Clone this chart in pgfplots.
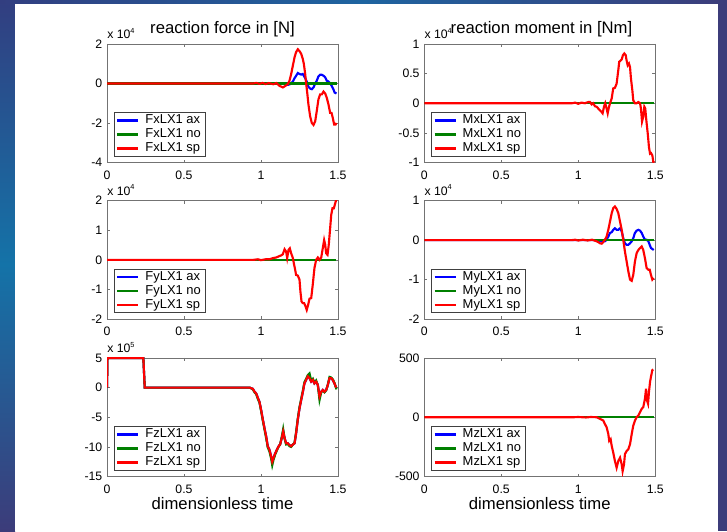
\documentclass[border=0pt]{standalone}
\usepackage{pgfplots}
\pgfplotsset{compat=1.18}
\usepackage{pgfplotstable}
\usepackage{fontspec}
\setmainfont{Liberation Sans}

\definecolor{mblue}{RGB}{0,0,255}
\definecolor{mgreen}{RGB}{0,128,0}
\definecolor{mred}{RGB}{255,0,0}
\definecolor{bgA}{RGB}{50,62,128}
\definecolor{bgB}{RGB}{20,115,168}
\definecolor{bgC}{RGB}{60,60,122}
\definecolor{bgT}{RGB}{30,100,160}

% Fx (x 10^4)
\pgfplotstableread{
x y
0 0
0.95 0
0.97 0.03
0.99 -0.02
1.01 0.03
1.03 -0.03
1.05 0.02
1.08 -0.04
1.10 0.02
1.12 -0.12
1.142 -0.2
1.159 -0.12
1.174 -0.03
1.185 0.14
1.196 0.48
1.207 0.91
1.218 1.33
1.228 1.59
1.239 1.73
1.25 1.64
1.261 1.5
1.271 1.25
1.278 1.0
1.287 0.48
1.293 0
1.30 -0.46
1.308 -1.06
1.319 -1.66
1.33 -2.0
1.341 -2.1
1.352 -1.91
1.362 -1.4
1.373 -0.8
1.384 -0.55
1.395 -0.55
1.406 -0.41
1.417 -0.51
1.427 -0.72
1.438 -1.06
1.449 -1.49
1.458 -1.49
1.466 -1.74
1.475 -2.08
1.484 -2.08
1.49 -2.0
}\fxred
\pgfplotstableread{
x y
0 0
1.15 0
1.174 -0.07
1.19 -0.03
1.207 0.1
1.218 0.27
1.228 0.39
1.239 0.53
1.25 0.48
1.261 0.45
1.271 0.48
1.278 0.39
1.287 0.27
1.297 0.1
1.308 -0.17
1.319 -0.26
1.33 -0.29
1.341 -0.2
1.352 0
1.362 0.14
1.373 0.36
1.384 0.44
1.395 0.44
1.406 0.39
1.417 0.31
1.427 0.14
1.438 0.1
1.449 0
1.459 -0.12
1.47 -0.29
1.478 -0.46
1.49 -0.51
}\fxblue
% Fy (x 10^4)
\pgfplotstableread{
x y
0 0
0.95 0
0.98 0.02
1.0 -0.01
1.03 0.02
1.055 0.02
1.077 0.06
1.099 0.08
1.12 0.13
1.131 0.15
1.142 0.19
1.153 0.36
1.163 0.28
1.17 0.06
1.179 0.34
1.187 0.39
1.196 0.22
1.207 0.06
1.213 -0.11
1.222 -0.34
1.228 -0.51
1.239 -0.53
1.25 -0.67
1.256 -1.07
1.263 -1.4
1.271 -1.46
1.28 -1.46
1.289 -1.57
1.297 -1.69
1.306 -1.52
1.315 -1.31
1.326 -1.29
1.336 -0.84
1.347 -0.28
1.358 0
1.369 0.08
1.38 0
1.391 0.08
1.401 0.39
1.41 0.67
1.417 0.51
1.423 0.22
1.432 0.17
1.44 0.51
1.449 1.07
1.456 1.52
1.464 1.74
1.473 1.74
1.482 1.91
1.49 2.05
}\fyred
% Fz (x 10^5)
\pgfplotstableread{
x y
0 0
0.003 5
0.236 5
0.245 0
0.925 0
0.936 -0.1
0.947 -0.2
0.958 -0.7
0.969 -1.0
0.979 -1.7
0.99 -2.4
1.001 -3.8
1.012 -5.4
1.023 -6.9
1.034 -8.3
1.044 -9.9
1.055 -10.5
1.066 -11.6
1.073 -12.5
1.081 -11.9
1.092 -11.1
1.103 -10.5
1.114 -9.9
1.124 -9.6
1.135 -8.5
1.144 -7.4
1.153 -8.5
1.163 -9.4
1.174 -9.4
1.185 -9.7
1.196 -9.9
1.207 -9.6
1.218 -9.4
1.228 -7.7
1.239 -5.4
1.25 -3.5
1.261 -2.1
1.272 -0.7
1.282 0.7
1.293 1.3
1.304 1.9
1.315 1.6
1.326 1.0
1.337 1.3
1.347 0.7
1.358 1.0
1.369 0.45
1.38 -1.5
1.391 -0.7
1.401 -0.4
1.412 -0.7
1.423 -0.4
1.434 0.45
1.445 1.6
1.456 1.6
1.466 1.3
1.477 0.7
1.488 0
}\fzred
\pgfplotstableread{
x y
0 0
0.003 5
0.236 5
0.245 0
0.925 0
0.936 -0.1
0.947 -0.3
0.958 -0.8
0.969 -1.1
0.979 -1.9
0.99 -2.5
1.001 -4.0
1.012 -5.6
1.023 -7.1
1.034 -8.6
1.044 -10.1
1.055 -10.8
1.066 -12.0
1.073 -13.1
1.081 -12.2
1.092 -11.3
1.103 -10.6
1.114 -10.0
1.124 -9.6
1.135 -8.3
1.144 -7.0
1.153 -8.6
1.163 -9.6
1.174 -9.5
1.185 -9.9
1.196 -10.0
1.207 -9.6
1.218 -9.3
1.228 -7.5
1.239 -5.2
1.25 -3.3
1.261 -1.9
1.272 -0.5
1.282 0.9
1.293 1.5
1.304 2.1
1.315 2.4
1.326 1.2
1.337 1.5
1.347 0.8
1.358 1.2
1.369 0.4
1.38 -2.1
1.391 -0.8
1.401 -0.5
1.412 -0.8
1.423 -0.5
1.434 0.5
1.445 1.8
1.456 1.7
1.466 1.4
1.477 0.8
1.49 -0.3
}\fzgreen
% Mx (x 10^4)
\pgfplotstableread{
x y
0 0
0.96 0
0.98 0.01
1.0 -0.01
1.02 0.01
1.0435 0
1.065 0.02
1.076 0.02
1.087 -0.02
1.097 0
1.108 -0.05
1.119 -0.06
1.13 -0.09
1.141 -0.12
1.152 -0.15
1.158 -0.17
1.167 -0.06
1.175 0
1.184 -0.09
1.191 -0.17
1.197 -0.09
1.206 0
1.217 0.08
1.227 0.25
1.238 0.26
1.249 0.33
1.26 0.56
1.266 0.7
1.275 0.72
1.282 0.74
1.29 0.81
1.299 0.84
1.308 0.81
1.314 0.72
1.321 0.64
1.329 0.67
1.336 0.61
1.342 0.42
1.351 0.22
1.357 0.05
1.368 0
1.379 0
1.39 0.02
1.401 0
1.407 -0.09
1.414 -0.31
1.422 -0.23
1.429 -0.06
1.435 -0.09
1.442 -0.29
1.451 -0.51
1.459 -0.74
1.466 -0.85
1.472 -0.84
1.481 -0.88
1.487 -0.99
1.494 -1.0
}\mxred
% My (x 10^4)
\pgfplotstableread{
x y
0 0
0.96 0
0.98 0.01
1.0 -0.01
1.03 0.01
1.06 -0.01
1.09 0.01
1.119 -0.03
1.13 -0.05
1.141 -0.08
1.152 -0.09
1.162 -0.05
1.173 0.01
1.184 0.09
1.195 0.26
1.206 0.47
1.217 0.68
1.227 0.81
1.238 0.85
1.249 0.79
1.26 0.68
1.271 0.47
1.282 0.26
1.292 0.01
1.303 -0.29
1.314 -0.54
1.325 -0.79
1.336 -1.0
1.347 -1.03
1.357 -0.88
1.368 -0.54
1.379 -0.33
1.39 -0.25
1.401 -0.2
1.412 -0.16
1.422 -0.25
1.433 -0.46
1.444 -0.71
1.455 -0.75
1.464 -0.75
1.472 -0.88
1.481 -1.0
1.49 -0.96
}\myred
\pgfplotstableread{
x y
0 0
1.12 0
1.152 -0.03
1.173 -0.03
1.184 0.01
1.195 0.09
1.206 0.18
1.217 0.2
1.227 0.26
1.238 0.3
1.249 0.26
1.26 0.26
1.271 0.3
1.282 0.22
1.292 0.05
1.303 -0.08
1.314 -0.12
1.325 -0.12
1.336 -0.08
1.347 -0.03
1.357 0.05
1.368 0.18
1.379 0.24
1.39 0.26
1.401 0.24
1.412 0.18
1.422 0.09
1.433 0.01
1.444 0.01
1.455 -0.03
1.464 -0.12
1.472 -0.2
1.49 -0.25
}\myblue
% Mz
\pgfplotstableread{
x y
0 0
0.97 0
1.0 2
1.05 -2
1.08 2
1.119 0
1.141 -14
1.162 -28
1.173 -57
1.184 -85
1.195 -142
1.201 -199
1.210 -185
1.217 -241
1.227 -298
1.238 -369
1.249 -426
1.26 -369
1.271 -341
1.282 -398
1.288 -455
1.297 -398
1.303 -312
1.314 -284
1.325 -270
1.336 -227
1.347 -142
1.357 -71
1.368 -28
1.379 0
1.39 14
1.401 43
1.412 71
1.422 85
1.433 156
1.44 241
1.446 142
1.453 114
1.459 213
1.466 298
1.472 341
1.481 398
1.487 403
}\mzred

\pgfplotsset{
  mstyle/.style={
    scale only axis,
    width=173.25pt, height=88.9pt,
    xmin=0, xmax=1.5,
    xtick={0,0.5,1,1.5}, xticklabels={0,0.5,1,1.5},
    tick align=inside, major tick length=2.2pt,
    axis line style={black!55, line width=0.6pt},
    tick style={black!55, line width=0.5pt},
    ticklabel style={font=\fontsize{9.2}{10}\selectfont},
    xticklabel style={yshift=-2.6pt},
    scaled ticks=false,
    every axis plot/.append style={line width=1.6pt},
    legend style={at={(0.0286,0.0506)}, anchor=south west, draw=black!75,
      line width=0.5pt, fill=white, font=\fontsize{9.7}{10}\selectfont,
      inner xsep=1.5pt, inner ysep=0.6pt, row sep=0pt,
      nodes={inner ysep=0.7pt, text height=6.9pt, text depth=2.2pt}},
    legend cell align=left,
    legend image code/.code={\draw[##1, line width=2.1pt] (0pt,0pt) -- (15.75pt,0pt); \path (18.3pt,0pt);},
  }
}

\begin{document}
\begin{tikzpicture}
% background (slide)
\fill[bgC] (0,0) rectangle (545.25pt,398.25pt);
\shade[top color=bgB, bottom color=bgC] (0,0) rectangle (11.25pt,200pt);
\shade[top color=bgA, bottom color=bgB] (0,199.5pt) rectangle (11.25pt,398.25pt);
\shade[left color=bgA, right color=bgT] (0,395.25pt) rectangle (272pt,398.25pt);
\shade[left color=bgT, right color=bgC] (271.5pt,395.25pt) rectangle (545.25pt,398.25pt);
\fill[white] (11.25pt,0) rectangle (538.5pt,395.25pt);
\useasboundingbox (0,0) rectangle (545.25pt,398.25pt);

% ---------- Fx ----------
\begin{axis}[mstyle, name=TL, at={(80.25pt,276.375pt)}, anchor=south west,
  ymin=-4, ymax=2, ytick={-4,-2,0,2}, yticklabels={-4,-2,0,2}]
\addplot[mblue] table[x=x,y=y] {\fxblue};
\addplot[mgreen] coordinates {(0,0) (1.492,0)};
\addplot[mred] table[x=x,y=y] {\fxred};
\legend{FxLX1 ax, FxLX1 no, FxLX1 sp}
\end{axis}

% ---------- Mx ----------
\begin{axis}[mstyle, name=TR, at={(318.2pt,276.375pt)}, anchor=south west,
  ymin=-1, ymax=1, ytick={-1,-0.5,0,0.5,1}, yticklabels={-1,-0.5,0,0.5,1}]
\addplot[mblue] coordinates {(0,0) (1.492,0)};
\addplot[mgreen] coordinates {(0,0) (1.492,0)};
\addplot[mred] table[x=x,y=y] {\mxred};
\legend{MxLX1 ax, MxLX1 no, MxLX1 sp}
\end{axis}

% ---------- Fy ----------
\begin{axis}[mstyle, name=ML, at={(80.25pt,158.9pt)}, anchor=south west,
  ymin=-2, ymax=2, ytick={-2,-1,0,1,2}, yticklabels={-2,-1,0,1,2}]
\addplot[mblue] coordinates {(0,0) (1.49,0)};
\addplot[mgreen] coordinates {(0,0) (1.49,0)};
\addplot[mred] table[x=x,y=y] {\fyred};
\legend{FyLX1 ax, FyLX1 no, FyLX1 sp}
\end{axis}

% ---------- My ----------
\begin{axis}[mstyle, name=MR, at={(318.2pt,158.9pt)}, anchor=south west,
  ymin=-2, ymax=1, ytick={-2,-1,0,1}, yticklabels={-2,-1,0,1}]
\addplot[mblue] table[x=x,y=y] {\myblue};
\addplot[mgreen] coordinates {(0,0) (1.49,0)};
\addplot[mred] table[x=x,y=y] {\myred};
\legend{MyLX1 ax, MyLX1 no, MyLX1 sp}
\end{axis}

% ---------- Fz ----------
\begin{axis}[mstyle, name=BL, at={(80.25pt,40.875pt)}, anchor=south west,
  ymin=-15, ymax=5, ytick={-15,-10,-5,0,5}, yticklabels={-15,-10,-5,0,5}]
\addplot[mblue] table[x=x,y=y] {\fzred};
\addplot[mgreen] table[x=x,y=y] {\fzgreen};
\addplot[mred] table[x=x,y=y] {\fzred};
\legend{FzLX1 ax, FzLX1 no, FzLX1 sp}
\end{axis}

% ---------- Mz ----------
\begin{axis}[mstyle, name=BR, at={(318.2pt,40.875pt)}, anchor=south west,
  ymin=-500, ymax=500, ytick={-500,0,500}, yticklabels={-500,0,500}]
\addplot[mblue] coordinates {(0,0) (1.49,0)};
\addplot[mgreen] coordinates {(0,0) (1.49,0)};
\addplot[mred] table[x=x,y=y] {\mzred};
\legend{MzLX1 ax, MzLX1 no, MzLX1 sp}
\end{axis}

% multipliers
\newcommand{\mult}[1]{x 10\raisebox{0.8ex}{\fontsize{5.5}{6}\selectfont #1}}
\foreach \ax/\e in {TL/4, TR/4, ML/4, MR/4, BL/5}{
  \node[anchor=base west, inner sep=0pt, font=\fontsize{9.2}{10}\selectfont]
    at ([yshift=4.1pt]\ax.north west) {\mult{\e}};
}
% titles
\node[anchor=base, inner sep=0pt, font=\fontsize{12.5}{14}\selectfont] at ([yshift=8pt]TL.north) {reaction force in [N]};
\node[anchor=base, inner sep=0pt, font=\fontsize{12.5}{14}\selectfont] at ([xshift=1.3pt,yshift=8pt]TR.north) {reaction moment in [Nm]};
% x labels
\node[anchor=base, inner sep=0pt, font=\fontsize{12.5}{14}\selectfont] at ([yshift=-25.1pt]BL.south) {dimensionless time};
\node[anchor=base, inner sep=0pt, font=\fontsize{12.5}{14}\selectfont] at ([yshift=-25.1pt]BR.south) {dimensionless time};
\end{tikzpicture}
\end{document}
